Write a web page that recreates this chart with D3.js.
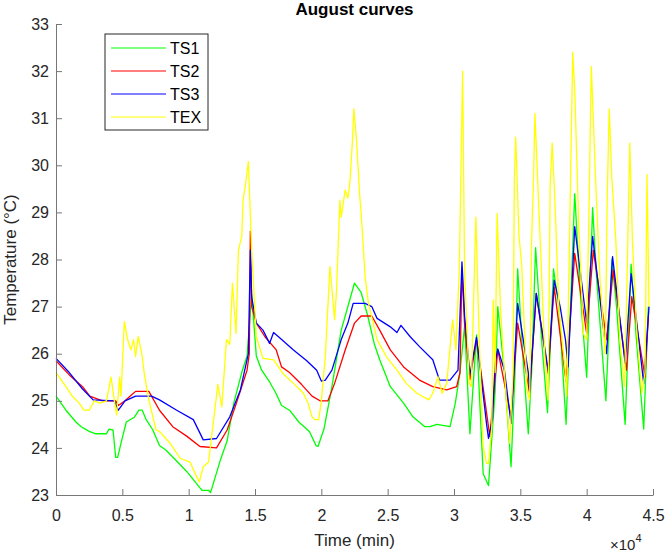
<!DOCTYPE html>
<html>
<head>
<meta charset="utf-8">
<script src="https://cdn.jsdelivr.net/npm/d3@7"></script>
<style>
    body { margin: 0; background: #fff; }
    svg { display: block; font-family: "Liberation Sans", Arial, Helvetica, sans-serif; }
</style>
</head>
<body>
<div id="chart"></div>
<script>
// time in minutes, temperature in °C
const ts1 = [[0,25.1],[750,24.8],[1500,24.55],[1900,24.45],[2500,24.35],[3000,24.3],[3800,24.3],[4000,24.4],[4300,24.38],[4500,23.8],[4650,23.8],[4900,24.1],[5300,24.55],[5900,24.65],[6250,24.8],[6500,24.8],[6800,24.6],[7300,24.38],[7800,24.05],[8300,23.95],[9000,23.75],[9850,23.5],[10850,23.15],[11000,23.1],[11500,23.1],[11650,23.05],[12400,23.75],[12900,24.15],[13400,24.95],[14000,25.6],[14400,25.95],[14750,27.25],[15100,25.95],[15500,25.65],[16100,25.4],[16600,25.15],[17000,24.9],[17600,24.8],[18300,24.55],[19100,24.35],[19600,24.05],[19750,24.03],[20200,24.4],[20800,25.3],[21500,26.5],[22500,27.5],[23000,27.3],[23500,26.8],[24000,26.2],[24400,25.87],[25200,25.3],[26200,24.95],[26900,24.66],[27800,24.45],[28200,24.45],[28700,24.5],[29700,24.45],[30100,24.95],[30450,25.6],[30700,26.3],[30800,26.6],[31200,24.3],[31700,26.4],[32200,23.45],[32600,23.2],[33100,25.2],[33300,27.0],[33800,25.6],[34300,23.6],[34600,25.6],[34800,27.8],[35200,25.9],[35600,24.3],[35850,25.6],[36150,28.25],[36600,26.3],[37050,24.75],[37500,27.8],[37900,27.0],[38450,24.5],[39100,29.4],[39500,27.35],[40000,25.5],[40450,29.1],[40750,27.6],[41450,25.0],[41900,28.0],[42250,27.0],[42900,24.5],[43350,27.9],[43750,26.3],[44300,24.4],[44650,27.0]];

const ts2 = [[0,25.85],[1000,25.55],[2000,25.3],[2550,25.1],[3500,25.0],[4500,25.0],[4700,24.9],[5200,25.0],[5600,25.1],[6000,25.2],[7000,25.2],[7800,24.8],[8800,24.45],[9850,24.25],[10850,24.03],[12100,24.0],[12900,24.38],[13600,24.95],[14400,25.65],[14570,26.0],[14650,28.6],[14750,27.0],[15100,26.65],[15750,26.36],[16600,26.08],[17000,25.72],[17600,25.6],[18500,25.35],[19300,25.1],[19900,25.0],[20500,25.0],[21000,25.37],[21800,26.08],[22500,26.65],[23000,26.8],[23800,26.8],[24400,26.5],[25200,26.08],[26200,25.72],[27400,25.44],[28400,25.3],[29450,25.23],[30200,25.3],[30450,25.6],[30600,27.8],[30800,26.6],[31200,25.45],[31700,26.3],[32700,24.24],[33300,26.08],[34300,24.66],[34800,26.65],[35700,25.16],[36200,27.28],[37100,25.58],[37550,27.42],[38450,25.4],[39100,28.13],[40000,26.43],[40500,28.2],[41500,26.3],[42000,27.78],[43000,25.65],[43400,27.21],[44400,25.51],[44650,26.8]];

const ts3 = [[0,25.9],[1000,25.6],[2000,25.25],[2800,25.02],[4400,25.0],[4700,24.8],[5200,25.0],[6000,25.1],[7200,25.1],[7800,25.02],[9100,24.8],[10350,24.6],[11100,24.17],[12100,24.2],[13100,24.66],[13900,25.23],[14500,26.0],[14650,28.2],[14750,27.2],[15100,26.65],[15600,26.5],[16100,26.22],[16400,26.45],[16900,26.33],[17900,26.08],[18900,25.85],[19650,25.65],[20000,25.42],[20300,25.44],[20800,25.65],[21500,26.3],[22000,26.65],[22400,27.07],[23300,27.07],[23800,27.0],[24200,26.75],[25200,26.57],[25700,26.45],[26000,26.6],[26700,26.36],[27400,26.15],[28400,25.87],[28900,25.44],[29700,25.44],[30300,25.65],[30600,27.95],[30800,26.8],[31200,25.55],[31700,26.35],[32450,24.52],[32600,24.2],[32900,24.6],[33100,25.8],[33300,26.1],[33800,25.65],[34300,24.52],[34800,27.07],[35600,25.6],[35700,25.2],[36200,27.28],[37100,25.65],[37550,27.56],[38000,27.0],[38400,26.3],[38600,25.72],[39100,28.7],[40000,26.65],[40450,28.49],[41250,26.57],[41500,26.0],[41950,28.06],[42900,25.8],[43350,27.7],[44300,25.37],[44700,27.0]];

const tex = [[0,25.6],[750,25.3],[1250,25.09],[1750,24.95],[2100,24.8],[2500,24.8],[2900,25.0],[3300,24.95],[3800,25.0],[4150,25.5],[4400,25.0],[4570,24.7],[4800,25.5],[4900,25.1],[5150,26.68],[5400,26.3],[5650,26.08],[5850,26.3],[6000,25.94],[6200,26.37],[6500,25.95],[6650,25.58],[7000,25.02],[7300,24.66],[7550,24.38],[7800,24.35],[8600,24.1],[9350,23.78],[10100,23.7],[10600,23.39],[10800,23.28],[11100,23.6],[11500,23.7],[11850,24.52],[12200,25.35],[12500,24.87],[12850,26.3],[13100,26.2],[13300,27.5],[13570,26.43],[13750,28.2],[14000,28.48],[14100,29.26],[14300,29.62],[14500,30.08],[14750,28.2],[15100,26.36],[15600,25.9],[16400,25.87],[17100,25.58],[17900,25.37],[18650,25.16],[19000,24.95],[19300,24.66],[19500,24.6],[19800,24.6],[19900,24.8],[20000,25.0],[20300,25.94],[20650,27.85],[21000,26.72],[21150,27.35],[21400,29.26],[21500,28.9],[21800,29.48],[22000,29.3],[22150,29.62],[22350,30.54],[22450,31.2],[22650,30.54],[22900,29.33],[23000,29.0],[23300,27.64],[23550,27.07],[24200,26.3],[24900,25.94],[25700,25.65],[26400,25.37],[27200,25.16],[28100,25.02],[28400,25.16],[28800,25.51],[29100,25.16],[29450,25.37],[29900,26.72],[30150,26.08],[30400,27.78],[30650,32.0],[30800,27.7],[31150,25.37],[31300,25.3],[31650,28.9],[31900,26.3],[32200,24.03],[32450,23.67],[32600,23.67],[32850,24.45],[32950,27.14],[33100,25.6],[33250,28.98],[33500,27.0],[33800,25.6],[34200,24.1],[34450,25.6],[34550,29.7],[34650,30.6],[34900,28.5],[35100,27.9],[35500,25.23],[35700,25.02],[35850,28.4],[36000,29.8],[36100,31.1],[36500,28.4],[36850,25.94],[37100,25.02],[37250,29.62],[37400,30.47],[37600,29.3],[37900,27.0],[38400,25.58],[38500,25.1],[38750,29.12],[38950,32.4],[39100,31.6],[39400,28.77],[39750,26.43],[40000,26.3],[40200,29.48],[40350,32.1],[40700,29.5],[41000,27.6],[41400,26.0],[41550,29.3],[41700,31.2],[41900,29.7],[42200,28.4],[42500,26.3],[42850,25.3],[43000,27.0],[43250,30.47],[43450,28.4],[43750,26.6],[44150,25.16],[44400,25.6],[44550,29.8],[44700,27.0]];

const seriesNames = ['TS1', 'TS2', 'TS3', 'TEX'];
const seriesColors = ['#00ff00', '#ff0000', '#0000ff', '#ffff00'];
const xTicks = [0, 5000, 10000, 15000, 20000, 25000, 30000, 35000, 40000, 45000];
const yTicks = [23, 24, 25, 26, 27, 28, 29, 30, 31, 32, 33];

const width = 666, height = 554;
const margin = { top: 24, right: 13, bottom: 59, left: 56 };

const svg = d3.select('#chart').append('svg')
    .attr('width', width)
    .attr('height', height);

const x = d3.scaleLinear().domain([0, 45000]).range([margin.left, width - margin.right]);
const y = d3.scaleLinear().domain([23, 33]).range([height - margin.bottom, margin.top]);

// lines
const line = d3.line().x(d => x(d[0])).y(d => y(d[1]));
[ts1, ts2, ts3, tex].forEach((data, i) => {
    svg.append('path')
        .datum(data)
        .attr('d', line)
        .attr('fill', 'none')
        .attr('stroke', seriesColors[i])
        .attr('stroke-width', 1.3)
        .attr('stroke-linejoin', 'round');
});

// axes (ticks point inward, no box)
const xAxis = svg.append('g')
    .attr('transform', `translate(0,${height - margin.bottom})`)
    .call(d3.axisBottom(x).tickValues(xTicks).tickSizeInner(-6).tickSizeOuter(0)
        .tickPadding(15).tickFormat(d => d / 10000));

const yAxis = svg.append('g')
    .attr('transform', `translate(${margin.left},0)`)
    .call(d3.axisLeft(y).tickValues(yTicks).tickSizeInner(-6).tickSizeOuter(0)
        .tickPadding(7).tickFormat(d3.format('d')));

[xAxis, yAxis].forEach(g => {
    g.select('.domain').attr('stroke', '#777');
    g.selectAll('.tick line').attr('stroke', '#777');
    g.selectAll('.tick text')
        .attr('fill', '#262626')
        .style('font-size', '16px')
        .style('font-family', '"Liberation Sans", Arial, sans-serif');
});

// title and labels
svg.append('text')
    .attr('x', (margin.left + width - margin.right) / 2)
    .attr('y', 15)
    .attr('text-anchor', 'middle')
    .style('font-size', '17px')
    .style('font-weight', 'bold')
    .attr('fill', '#000')
    .text('August curves');

svg.append('text')
    .attr('x', (margin.left + width - margin.right) / 2)
    .attr('y', 546)
    .attr('text-anchor', 'middle')
    .style('font-size', '17px')
    .attr('fill', '#262626')
    .text('Time (min)');

svg.append('text')
    .attr('transform', `translate(16,${(margin.top + height - margin.bottom) / 2}) rotate(-90)`)
    .attr('text-anchor', 'middle')
    .style('font-size', '17px')
    .attr('fill', '#262626')
    .text('Temperature (°C)');

const expo = svg.append('text')
    .attr('x', 610)
    .attr('y', 550)
    .style('font-size', '15px')
    .attr('fill', '#262626');
expo.append('tspan').text('×10');
expo.append('tspan').attr('dy', -8).style('font-size', '11px').text('4');

// legend
const legend = svg.append('g').attr('transform', 'translate(105,34)');
legend.append('rect')
    .attr('width', 103)
    .attr('height', 96)
    .attr('fill', '#fff')
    .attr('stroke', '#262626')
    .attr('stroke-width', 1);

seriesNames.forEach((name, i) => {
    const row = legend.append('g').attr('transform', `translate(0,${14 + i * 23})`);
    row.append('line')
        .attr('x1', 6).attr('x2', 61)
        .attr('stroke', seriesColors[i])
        .attr('stroke-width', 1.2);
    row.append('text')
        .attr('x', 65)
        .attr('dy', '0.36em')
        .style('font-size', '16px')
        .attr('fill', '#000')
        .text(name);
});
</script>
</body>
</html>
